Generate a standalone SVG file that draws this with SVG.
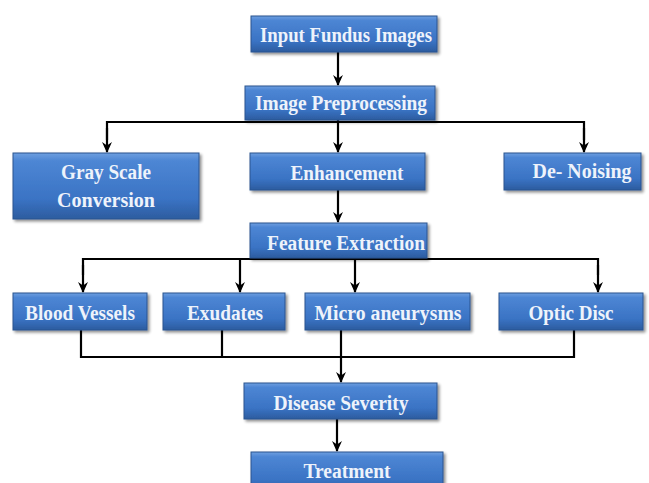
<svg xmlns="http://www.w3.org/2000/svg" width="649" height="483" viewBox="0 0 649 483">
<defs>
<linearGradient id="g" x1="0" y1="0" x2="0" y2="1">
<stop offset="0" stop-color="#6f9fe0"/>
<stop offset="0.12" stop-color="#4d86d4"/>
<stop offset="0.7" stop-color="#3a73c4"/>
<stop offset="1" stop-color="#2c5c9f"/>
</linearGradient>
<filter id="sh" x="-10%" y="-20%" width="130%" height="160%">
<feGaussianBlur in="SourceAlpha" stdDeviation="1.5"/>
<feOffset dx="1.5" dy="2" result="b"/>
<feComponentTransfer><feFuncA type="linear" slope="0.45"/></feComponentTransfer>
<feMerge><feMergeNode/><feMergeNode in="SourceGraphic"/></feMerge>
</filter>
<marker id="ah" viewBox="0 0 10 10" refX="9" refY="5" markerWidth="11" markerHeight="11" orient="auto" markerUnits="userSpaceOnUse">
<path d="M0,0.5 L10,5 L0,9.5 L3,5 z" fill="#000"/>
</marker>
</defs>
<style>
.box{fill:url(#g);stroke:#2a5590;stroke-width:1;filter:url(#sh)}
.t{font-family:"Liberation Serif","Times New Roman",serif;font-weight:bold;font-size:20px;fill:#eef3fb;text-anchor:middle}
.c{fill:none;stroke:#000;stroke-width:2.2}
.a{marker-end:url(#ah)}
</style>
<rect width="649" height="483" fill="#fff"/>
<g id="connectors">
<line class="c a" x1="338" y1="52" x2="338" y2="85"/>
<polyline class="c" points="107,140 107,122 584,122 584,140"/>
<line class="c a" x1="107" y1="128" x2="107" y2="152"/>
<line class="c a" x1="338" y1="120" x2="338" y2="152"/>
<line class="c a" x1="584" y1="128" x2="584" y2="152"/>
<line class="c a" x1="338" y1="190" x2="338" y2="222"/>
<polyline class="c" points="83,275 83,259 598,259 598,275"/>
<line class="c a" x1="83" y1="265" x2="83" y2="292"/>
<line class="c a" x1="240" y1="259" x2="240" y2="292"/>
<line class="c a" x1="355" y1="259" x2="355" y2="292"/>
<line class="c a" x1="598" y1="265" x2="598" y2="292"/>
<polyline class="c" points="81,330 81,357 574,357 574,330"/>
<line class="c" x1="222" y1="330" x2="222" y2="357"/>
<line class="c a" x1="341" y1="330" x2="341" y2="382"/>
<line class="c a" x1="337" y1="419" x2="337" y2="451"/>
</g>
<g id="input"><rect class="box" x="251" y="16" width="186" height="36"/><text class="t" x="346" y="42" textLength="172" lengthAdjust="spacingAndGlyphs">Input Fundus  Images</text></g>
<g id="preprocessing"><rect class="box" x="245" y="86" width="190" height="34"/><text class="t" x="341" y="110" textLength="172" lengthAdjust="spacingAndGlyphs">Image Preprocessing</text></g>
<g id="grayscale"><rect class="box" x="13" y="153" width="186" height="66"/><text class="t" x="106" y="179" textLength="90" lengthAdjust="spacingAndGlyphs">Gray Scale</text><text class="t" x="106" y="207" textLength="98" lengthAdjust="spacingAndGlyphs">Conversion</text></g>
<g id="enhancement"><rect class="box" x="250" y="153" width="175" height="37"/><text class="t" x="347" y="180" textLength="113" lengthAdjust="spacingAndGlyphs">Enhancement</text></g>
<g id="denoising"><rect class="box" x="504" y="153" width="137" height="37"/><text class="t" x="582" y="178" textLength="99" lengthAdjust="spacingAndGlyphs">De- Noising</text></g>
<g id="feature"><rect class="box" x="250" y="223" width="177" height="35"/><text class="t" x="346" y="250" textLength="158" lengthAdjust="spacingAndGlyphs">Feature Extraction</text></g>
<g id="blood"><rect class="box" x="13" y="293" width="134" height="37"/><text class="t" x="80" y="320" textLength="110" lengthAdjust="spacingAndGlyphs">Blood Vessels</text></g>
<g id="exudates"><rect class="box" x="163" y="293" width="122" height="37"/><text class="t" x="225" y="320" textLength="76" lengthAdjust="spacingAndGlyphs">Exudates</text></g>
<g id="micro"><rect class="box" x="305" y="293" width="165" height="37"/><text class="t" x="388" y="320" textLength="147" lengthAdjust="spacingAndGlyphs">Micro aneurysms</text></g>
<g id="optic"><rect class="box" x="499" y="293" width="144" height="37"/><text class="t" x="571" y="320" textLength="85" lengthAdjust="spacingAndGlyphs">Optic Disc</text></g>
<g id="severity"><rect class="box" x="244" y="383" width="193" height="36"/><text class="t" x="341" y="410" textLength="135" lengthAdjust="spacingAndGlyphs">Disease Severity</text></g>
<g id="treatment"><rect class="box" x="251" y="452" width="192" height="40"/><text class="t" x="347" y="478" textLength="87" lengthAdjust="spacingAndGlyphs">Treatment</text></g>
</svg>
